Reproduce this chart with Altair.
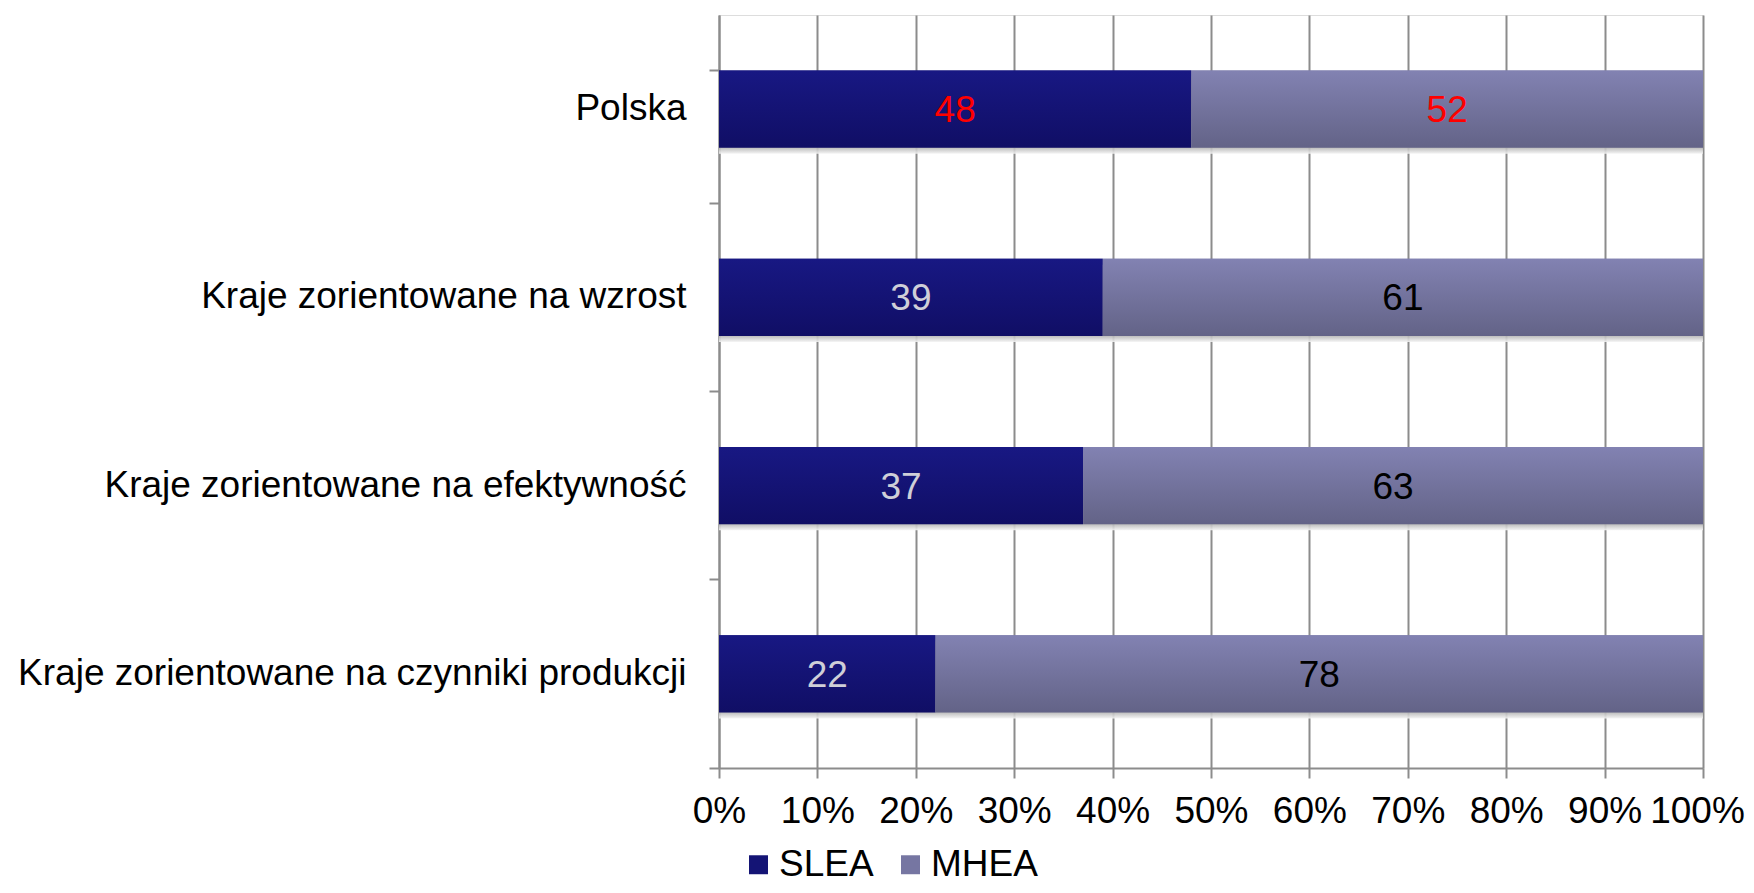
import altair as alt
import pandas as pd

categories = [
    "Polska",
    "Kraje zorientowane na wzrost",
    "Kraje zorientowane na efektywność",
    "Kraje zorientowane na czynniki produkcji",
]
slea = [48, 39, 37, 22]
mhea = [52, 61, 63, 78]
series = ["SLEA", "MHEA"]
x_ticks = [0, 10, 20, 30, 40, 50, 60, 70, 80, 90, 100]

rows = []
for c, s, m in zip(categories, slea, mhea):
    rows.append({"cat": c, "series": "SLEA", "start": 0, "end": s, "value": s})
    rows.append({"cat": c, "series": "MHEA", "start": s, "end": s + m, "value": m})
df = pd.DataFrame(rows)
df["mid"] = (df["start"] + df["end"]) / 2

FONT = "Liberation Sans"
FS = 37
GRID = "#8c8c8c"
PAD_IN = 0.59
# tick at the boundary between steps (below each band)
BAND_POS = 1 + (PAD_IN / 2) / (1 - PAD_IN)

y_enc = alt.Y(
    "cat:N",
    sort=categories,
    title=None,
    scale=alt.Scale(paddingInner=PAD_IN, paddingOuter=PAD_IN / 2),
    axis=alt.Axis(
        labelFontSize=FS,
        labelFont=FONT,
        labelColor="#000000",
        labelPadding=23,
        labelLimit=1000,
        tickSize=10,
        tickColor=GRID,
        tickWidth=2,
        domainColor=GRID,
        domainWidth=2,
        bandPosition=BAND_POS,
        tickExtra=True,
        grid=False,
    ),
)
x_scale = alt.Scale(domain=[0, 100], nice=False)
x_enc = alt.X(
    "start:Q",
    scale=x_scale,
    title=None,
    axis=alt.Axis(
        values=x_ticks,
        labelExpr="datum.value + '%'",
        labelFontSize=FS,
        labelFont=FONT,
        labelColor="#000000",
        labelPadding=15,
        labelOffset=alt.condition("datum.value == 100", alt.value(-6), alt.value(0)),
        tickSize=10,
        tickColor=GRID,
        tickWidth=2,
        domainColor=GRID,
        domainWidth=2,
        grid=True,
        gridColor=GRID,
        gridWidth=2,
        labelFlush=False,
        labelOverlap=False,
    ),
)

base = alt.Chart(df)

shadow = base.transform_filter(alt.datum.series == "MHEA").transform_calculate(
    zero="0"
).mark_bar(
    color=alt.Gradient(
        gradient="linear", x1=0, y1=0, x2=0, y2=1,
        stops=[alt.GradientStop(color="#9a9a9a", offset=0),
               alt.GradientStop(color="#b4b4b4", offset=0.92),
               alt.GradientStop(color="#f4f4f4", offset=1)],
    ),
    yOffset=6,
    opacity=0.9,
).encode(y=y_enc, x=alt.X("zero:Q", scale=x_scale), x2="end:Q")

legend_bars = base.mark_bar().encode(
    y=y_enc,
    x=x_enc,
    x2="end:Q",
    color=alt.Color(
        "series:N",
        scale=alt.Scale(domain=series, range=["#141475", "#7676a2"]),
        title=None,
        legend=alt.Legend(
            orient="none",
            legendX=21,
            legendY=831,
            direction="horizontal",
            symbolType="square",
            symbolSize=360,
            symbolStrokeWidth=0,
            labelFontSize=FS,
            labelFont=FONT,
            labelColor="#000000",
            labelOffset=2,
            columnPadding=18,
            padding=0,
        ),
    ),
)

def grad_layer(name, top, bottom):
    return base.transform_filter(alt.datum.series == name).mark_bar(
        color=alt.Gradient(
            gradient="linear", x1=0, y1=0, x2=0, y2=1,
            stops=[alt.GradientStop(color=top, offset=0),
                   alt.GradientStop(color=bottom, offset=1)],
        )
    ).encode(y=y_enc, x=alt.X("start:Q", scale=x_scale), x2="end:Q")

slea_bars = grad_layer("SLEA", "#181883", "#100e65")
mhea_bars = grad_layer("MHEA", "#8282b2", "#636387")

slea_text = base.transform_filter(alt.datum.series == "SLEA").mark_text(
    fontSize=FS, font=FONT, baseline="middle", align="center", dy=2
).encode(
    y=y_enc,
    x=alt.X("mid:Q", scale=x_scale),
    text="value:Q",
    color=alt.condition(alt.datum.cat == "Polska", alt.value("#ff0000"), alt.value("#cfcfd8")),
)
mhea_text = base.transform_filter(alt.datum.series == "MHEA").mark_text(
    fontSize=FS, font=FONT, baseline="middle", align="center", dy=2
).encode(
    y=y_enc,
    x=alt.X("mid:Q", scale=x_scale),
    text="value:Q",
    color=alt.condition(alt.datum.cat == "Polska", alt.value("#ff0000"), alt.value("#000000")),
)

chart = alt.layer(
    legend_bars, shadow, slea_bars, mhea_bars, slea_text, mhea_text
).properties(
    width=984,
    height=753,
    autosize=alt.AutoSizeParams(type="none"),
    padding={"left": 711, "top": 7, "right": 43, "bottom": 117},
).configure_view(stroke=None).configure(background="#ffffff")

chart.save("out.html", embed_options={"renderer": "svg", "actions": False})
